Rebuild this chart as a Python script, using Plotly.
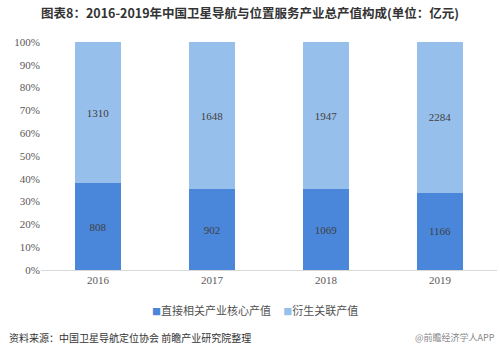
import plotly.graph_objects as go

years = ["2016", "2017", "2018", "2019"]
core_values = [808, 902, 1069, 1166]
derived_values = [1310, 1648, 1947, 2284]
tick_vals = [0, 10, 20, 30, 40, 50, 60, 70, 80, 90, 100]
tick_text = [f"{v}%" for v in tick_vals]
series_names = ["直接相关产业核心产值", "衍生关联产值"]
series_colors = ["#4a87db", "#97bfec"]

serif = "Liberation Serif"
cjk = "Noto Sans CJK SC"

fig = go.Figure()
for name, vals, color in zip(series_names, [core_values, derived_values], series_colors):
    fig.add_trace(go.Bar(
        x=years, y=vals, name=name, showlegend=False,
        marker=dict(color=color, line=dict(width=0)),
        text=vals, texttemplate="%{text}", textposition="inside",
        insidetextanchor="middle", textangle=0,
        textfont=dict(family=serif, size=11, color="#404040"),
    ))

fig.update_layout(
    barmode="stack", barnorm="percent", bargap=0.6,
    width=500, height=354,
    margin=dict(l=41, r=3, t=42, b=84),
    paper_bgcolor="white", plot_bgcolor="white",
    showlegend=False,
    title=dict(text="<b>图表8：2016-2019年中国卫星导航与位置服务产业总产值构成(单位：亿元)</b>",
               x=0.5, xanchor="center", y=0.962, yanchor="middle",
               font=dict(family=cjk, size=12.5, color="#333333")),
    uniformtext=dict(minsize=8, mode="show"),
)
fig.update_xaxes(showgrid=False, showline=True, linecolor="#d9d9d9", linewidth=1,
                 ticks="", tickfont=dict(family=serif, size=11, color="#595959"))
fig.update_yaxes(range=[0, 100], tickvals=tick_vals, ticktext=tick_text,
                 showgrid=False, showline=False, zeroline=False, ticks="",
                 tickfont=dict(family=serif, size=11, color="#595959"))

# legend drawn as one line of text with small coloured squares
legend_parts = []
for name, color in zip(series_names, series_colors):
    legend_parts.append(f'<span style="color:{color};font-size:9px">■</span>{name}')
fig.add_annotation(text="\u00a0\u00a0\u00a0\u00a0\u00a0".join(legend_parts),
                   xref="paper", yref="paper", x=0.469, y=-0.175, xanchor="center", yanchor="middle",
                   showarrow=False, font=dict(family=cjk, size=11, color="#505050"))

fig.add_annotation(text="资料来源：中国卫星导航定位协会 前瞻产业研究院整理",
                   xref="paper", yref="paper", x=-0.075, y=-0.298, xanchor="left", yanchor="middle",
                   showarrow=False, font=dict(family=cjk, size=10, color="#333333"))
fig.add_annotation(text="@前瞻经济学人APP",
                   xref="paper", yref="paper", x=1.0, y=-0.298, xanchor="right", yanchor="middle",
                   showarrow=False, font=dict(family=cjk, size=9, color="#888888"))

fig.write_html("out.html")
